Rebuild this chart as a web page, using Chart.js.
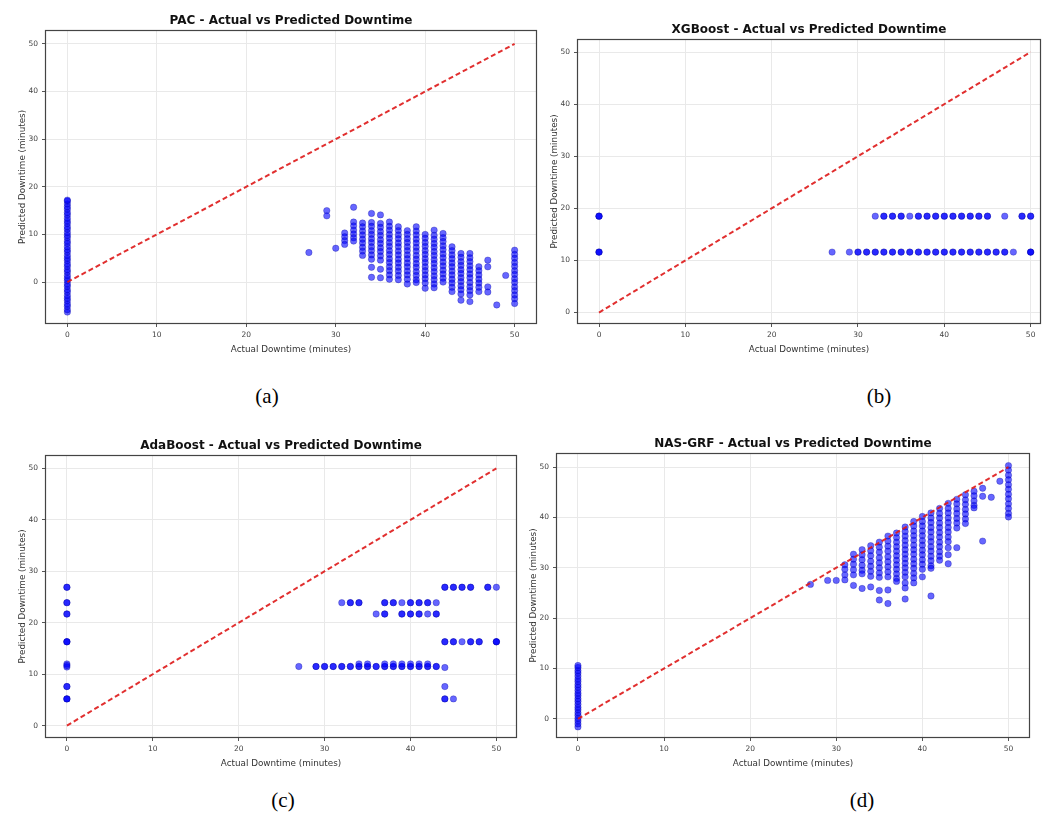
<!DOCTYPE html>
<html>
<head>
<meta charset="utf-8">
<script src="https://cdn.jsdelivr.net/npm/chart.js@4.4.0/dist/chart.umd.min.js"></script>
<style>
  html, body { margin: 0; padding: 0; background: #fff; }
  body { width: 1047px; height: 821px; position: relative; overflow: hidden; }
  canvas { position: absolute; }
  .caption {
    position: absolute;
    font-family: "Liberation Serif", "Times New Roman", serif;
    font-size: 21px;
    color: #000;
    transform: translate(-50%, -50%);
  }
</style>
</head>
<body>
<canvas id="pacChart"></canvas>
<canvas id="xgbChart"></canvas>
<canvas id="adaChart"></canvas>
<canvas id="nasChart"></canvas>
<div class="caption" style="left:267px;top:396px">(a)</div>
<div class="caption" style="left:879px;top:396px">(b)</div>
<div class="caption" style="left:283px;top:800px">(c)</div>
<div class="caption" style="left:862px;top:800px">(d)</div>

<script>
// ---------- data ----------

const xTicks = [0, 10, 20, 30, 40, 50];
const yTicks = [0, 10, 20, 30, 40, 50];
const refLine = [0, 50];

// actual downtime columns, shared by all four models
const actualCols = [0, 27, 29, 30, 31, 32, 33, 34, 35, 36, 37, 38, 39, 40, 41, 42, 43, 44, 45, 46, 47, 48, 49, 50];

// (a) PAC predictions, one list per actual column
const pacPred = [
  [-6.3, -5.8, -5.1, -4.6, -3.9, -3.4, -2.8, -2.1, -1.6, -0.9, -0.4, 0.3, 0.8, 1.4, 2.1, 2.6, 3.3, 3.8, 4.5, 5.0, 5.6, 6.3, 6.8, 7.4, 8.1, 8.6, 9.3, 9.8, 10.4, 11.1, 11.6, 12.3, 12.8, 13.4, 14.1, 14.6, 15.3, 15.8, 16.4, 17.0, 17.2],
  [6.2],
  [15.0, 13.9],
  [7.1],
  [10.3, 9.5, 8.7, 7.9],
  [15.7, 12.6, 11.8, 10.9, 10.1, 9.3, 8.6],
  [12.4, 11.6, 10.7, 9.9, 9.0, 8.2, 7.3, 6.5, 5.6],
  [14.4, 12.5, 11.7, 10.8, 10.0, 9.1, 8.3, 7.4, 6.6, 5.7, 4.8, 3.1, 1.0],
  [14.1, 12.3, 11.5, 10.6, 9.8, 8.9, 8.1, 7.2, 6.4, 5.5, 4.6, 2.7, 0.9],
  [12.6, 11.7, 10.9, 10.0, 9.2, 8.3, 7.5, 6.6, 5.8, 4.9, 4.1, 3.2, 2.4, 1.5, 0.6],
  [11.6, 10.8, 9.9, 9.1, 8.2, 7.4, 6.5, 5.7, 4.8, 4.0, 3.1, 2.3, 1.4, 0.5],
  [10.8, 10.0, 9.1, 8.3, 7.4, 6.6, 5.7, 4.9, 4.0, 3.2, 2.3, 1.5, 0.6, -0.4],
  [11.6, 10.7, 9.9, 9.0, 8.2, 7.3, 6.5, 5.6, 4.8, 3.9, 3.1, 2.2, 1.4, 0.5, -0.1],
  [10.0, 9.2, 8.3, 7.5, 6.6, 5.8, 4.9, 4.1, 3.2, 2.4, 1.5, 0.7, -0.2, -1.3],
  [10.9, 9.8, 9.0, 8.1, 7.3, 6.4, 5.6, 4.7, 3.9, 3.0, 2.2, 1.3, 0.5, -0.4, -1.2],
  [10.2, 9.3, 8.5, 7.6, 6.8, 5.9, 5.1, 4.2, 3.4, 2.5, 1.7, 0.8, 0.0],
  [7.4, 6.6, 5.7, 4.9, 4.0, 3.2, 2.3, 1.5, 0.6, -0.2, -1.1, -2.0],
  [6.0, 5.2, 4.3, 3.5, 2.6, 1.8, 0.9, 0.1, -0.8, -1.6, -2.5, -3.8],
  [6.0, 5.1, 4.3, 3.4, 2.6, 1.7, 0.9, -0.1, -1.0, -1.8, -2.7, -4.1],
  [3.2, 2.4, 1.5, 0.6, -0.2, -1.1, -2.0],
  [4.6, 3.2, -1.0, -2.1],
  [-4.8],
  [1.4],
  [6.7, 5.8, 5.0, 4.1, 3.3, 2.4, 1.6, 0.7, -0.1, -1.0, -1.8, -2.7, -3.5, -4.5]
];

// (b) XGBoost: only two predicted levels, repeats mark overlapping samples
const xgbPred = [
  [18.5, 18.5, 18.5, 11.6, 11.6, 11.6],
  [11.6],
  [11.6],
  [11.6, 11.6],
  [11.6, 11.6],
  [18.5, 11.6, 11.6],
  [18.5, 18.5, 11.6, 11.6],
  [18.5, 18.5, 11.6, 11.6],
  [18.5, 18.5, 11.6, 11.6],
  [18.5, 11.6, 11.6],
  [18.5, 18.5, 11.6, 11.6],
  [18.5, 18.5, 11.6, 11.6],
  [18.5, 18.5, 11.6, 11.6],
  [18.5, 18.5, 11.6, 11.6],
  [18.5, 18.5, 11.6, 11.6],
  [18.5, 18.5, 11.6, 11.6],
  [18.5, 18.5, 11.6, 11.6],
  [18.5, 18.5, 11.6, 11.6],
  [18.5, 18.5, 11.6, 11.6],
  [11.6, 11.6],
  [18.5, 11.6, 11.6],
  [11.6],
  [18.5, 18.5],
  [18.5, 18.5, 11.6, 11.6, 11.6]
];

// (c) AdaBoost
const adaPred = [
  [26.9, 26.9, 23.9, 23.9, 21.7, 21.7, 16.3, 16.3, 16.3, 12.0, 11.4, 11.7, 7.6, 7.6, 5.2, 5.2, 5.2],
  [11.5],
  [11.5, 11.5],
  [11.5, 11.5],
  [11.5, 11.5],
  [23.9, 11.5, 11.5],
  [23.9, 23.9, 11.5, 11.5],
  [23.9, 23.9, 11.5, 11.5, 12.0],
  [11.5, 11.5, 12.0],
  [21.7, 11.5, 11.5],
  [23.9, 23.9, 21.7, 21.7, 11.5, 11.5, 12.0],
  [23.9, 23.9, 11.5, 11.5, 12.0],
  [23.9, 21.7, 21.7, 11.5, 11.5, 12.0],
  [23.9, 23.9, 21.7, 21.7, 11.5, 11.5, 12.0],
  [23.9, 23.9, 21.7, 21.7, 11.5, 11.5, 12.0],
  [23.9, 23.9, 21.7, 11.5, 11.5, 12.0],
  [23.9, 21.7, 21.7, 11.5, 11.5],
  [26.9, 26.9, 16.3, 16.3, 11.3, 7.6, 5.2, 5.2],
  [26.9, 26.9, 16.3, 16.3, 5.2],
  [26.9, 26.9, 16.3],
  [26.9, 26.9, 16.3, 16.3],
  [16.3, 16.3],
  [26.9, 26.9],
  [26.9, 16.3, 16.3, 16.3]
];

// (d) NAS-GRF
const nasPred = [
  [-1.6, -1.0, -0.4, 0.1, 0.7, 1.2, 1.8, 2.3, 2.9, 3.5, 4.0, 4.6, 5.1, 5.7, 6.3, 6.8, 7.4, 7.9, 8.5, 9.1, 9.6, 10.2, 10.6],
  [26.7],
  [27.5],
  [27.5],
  [30.6, 29.7, 28.6, 27.6],
  [32.7, 31.7, 30.7, 29.6, 28.6, 26.5],
  [33.6, 32.6, 31.6, 30.5, 29.5, 28.8, 25.9],
  [34.4, 33.4, 32.4, 31.3, 30.3, 29.3, 28.3, 26.2],
  [35.1, 34.1, 33.1, 32.0, 31.0, 30.0, 29.0, 28.1, 25.5, 23.6],
  [36.3, 35.3, 34.3, 33.3, 32.2, 31.2, 30.2, 29.2, 28.2, 25.6, 22.9],
  [36.9, 36.0, 35.1, 34.2, 33.3, 32.4, 31.5, 30.6, 29.7, 28.8, 27.9, 27.3],
  [38.1, 37.2, 36.3, 35.4, 34.5, 33.6, 32.7, 31.8, 30.9, 30.0, 29.1, 28.2, 27.0, 26.0, 23.8],
  [39.2, 38.3, 37.3, 36.4, 35.5, 34.5, 33.6, 32.7, 31.7, 30.8, 29.9, 28.9, 28.0, 27.0],
  [40.2, 39.2, 38.3, 37.3, 36.4, 35.4, 34.5, 33.5, 32.6, 31.6, 30.7, 29.7, 28.2],
  [40.9, 39.9, 39.0, 38.0, 37.1, 36.1, 35.2, 34.2, 33.3, 32.3, 31.4, 30.4, 29.9, 24.4],
  [41.8, 40.8, 39.9, 38.9, 38.0, 37.0, 36.1, 35.1, 34.2, 33.2, 32.3, 31.5],
  [42.8, 41.8, 40.9, 39.9, 39.0, 38.0, 37.1, 36.1, 35.2, 34.0, 32.6, 30.8],
  [43.6, 42.7, 41.7, 40.8, 39.8, 38.9, 37.9, 34.0],
  [44.5, 43.5, 42.6, 41.6, 40.7, 39.7, 38.8],
  [45.2, 44.3, 43.3, 42.4, 41.9],
  [45.8, 44.2, 35.3],
  [44.0],
  [47.2],
  [50.3, 49.4, 48.4, 47.5, 46.5, 45.6, 44.6, 43.7, 42.7, 41.8, 40.8, 40.1]
];

// ---------- panel layout (plot box in page pixels + axis ranges) ----------

const panels = [
  { id: "pacChart", title: "PAC - Actual vs Predicted Downtime", pred: pacPred,
    box: { L: 45, T: 30, R: 537, B: 324 }, xRange: [-2.5, 52.5], yRange: [-8.8, 52.9] },
  { id: "xgbChart", title: "XGBoost - Actual vs Predicted Downtime", pred: xgbPred,
    box: { L: 577, T: 39, R: 1041, B: 324 }, xRange: [-2.55, 51.2], yRange: [-2.2, 52.5] },
  { id: "adaChart", title: "AdaBoost - Actual vs Predicted Downtime", pred: adaPred,
    box: { L: 45, T: 455, R: 517, B: 738 }, xRange: [-2.55, 52.4], yRange: [-2.4, 52.6] },
  { id: "nasChart", title: "NAS-GRF - Actual vs Predicted Downtime", pred: nasPred,
    box: { L: 556, T: 453, R: 1030, B: 738 }, xRange: [-2.55, 52.5], yRange: [-3.8, 52.8] }
];

const FONT = "'DejaVu Sans', sans-serif";
const PAD_LEFT = 17, Y_AXIS_W = 28, PAD_RIGHT = 8, TOP_SPACE = 30, X_AXIS_H = 40, PAD_BOTTOM = 2;

function toPoints(cols, pred) {
  const pts = [];
  cols.forEach((x, i) => pred[i].forEach((y) => pts.push({ x, y })));
  return pts;
}

// matplotlib-style box round the plot area, with the title centred over the axes
const framePlugin = {
  id: "frame",
  afterDraw(chart, args, opts) {
    const { ctx, chartArea: a } = chart;
    ctx.save();
    ctx.strokeStyle = "#444";
    ctx.lineWidth = 1.2;
    ctx.strokeRect(Math.round(a.left) + 0.5, Math.round(a.top) + 0.5, Math.round(a.width) - 1, Math.round(a.height) - 1);
    ctx.fillStyle = "#111";
    ctx.font = "bold 12px " + FONT;
    ctx.textAlign = "center";
    ctx.textBaseline = "middle";
    ctx.fillText(opts.text, (a.left + a.right) / 2, a.top - 9);
    ctx.restore();
  }
};

function axisOpts(range, ticks, title, isX) {
  return {
    type: "linear",
    min: range[0],
    max: range[1],
    afterBuildTicks: (s) => { s.ticks = ticks.map((v) => ({ value: v })); },
    afterFit: (s) => { if (isX) s.height = X_AXIS_H; else s.width = Y_AXIS_W; },
    grid: { color: "#e9e9e9", lineWidth: 1, tickLength: 3, tickColor: "#555" },
    border: { display: false },
    ticks: { color: "#444", font: { family: FONT, size: 7.5 }, padding: 4, maxRotation: 0, autoSkip: false },
    title: {
      display: true,
      text: title,
      color: "#333",
      font: { family: FONT, size: 8.8 },
      padding: isX ? { top: 0, bottom: 9 } : { top: 0, bottom: 0 }
    }
  };
}

function renderPanel(p) {
  const canvas = document.getElementById(p.id);
  const w = p.box.R - p.box.L + PAD_LEFT + Y_AXIS_W + PAD_RIGHT;
  const h = p.box.B - p.box.T + TOP_SPACE + X_AXIS_H + PAD_BOTTOM;
  canvas.width = w;
  canvas.height = h;
  canvas.style.left = (p.box.L - PAD_LEFT - Y_AXIS_W) + "px";
  canvas.style.top = (p.box.T - TOP_SPACE) + "px";

  new Chart(canvas, {
    type: "scatter",
    data: {
      datasets: [
        {
          type: "line",
          data: refLine.map((v) => ({ x: v, y: v })),
          borderColor: "rgba(222, 24, 24, 0.9)",
          borderWidth: 2,
          borderDash: [5, 3],
          pointRadius: 0,
          fill: false
        },
        {
          data: toPoints(actualCols, p.pred),
          backgroundColor: "rgba(0, 0, 255, 0.6)",
          borderColor: "rgba(0, 0, 150, 0.6)",
          borderWidth: 0.5,
          pointRadius: 3.2
        }
      ]
    },
    options: {
      responsive: false,
      animation: false,
      events: [],
      layout: { padding: { left: PAD_LEFT, right: PAD_RIGHT, top: TOP_SPACE, bottom: PAD_BOTTOM } },
      plugins: {
        legend: { display: false },
        tooltip: { enabled: false },
        title: { display: false },
        frame: { text: p.title }
      },
      scales: {
        x: axisOpts(p.xRange, xTicks, "Actual Downtime (minutes)", true),
        y: axisOpts(p.yRange, yTicks, "Predicted Downtime (minutes)", false)
      }
    },
    plugins: [framePlugin]
  });
}

panels.forEach(renderPanel);
</script>
</body>
</html>
